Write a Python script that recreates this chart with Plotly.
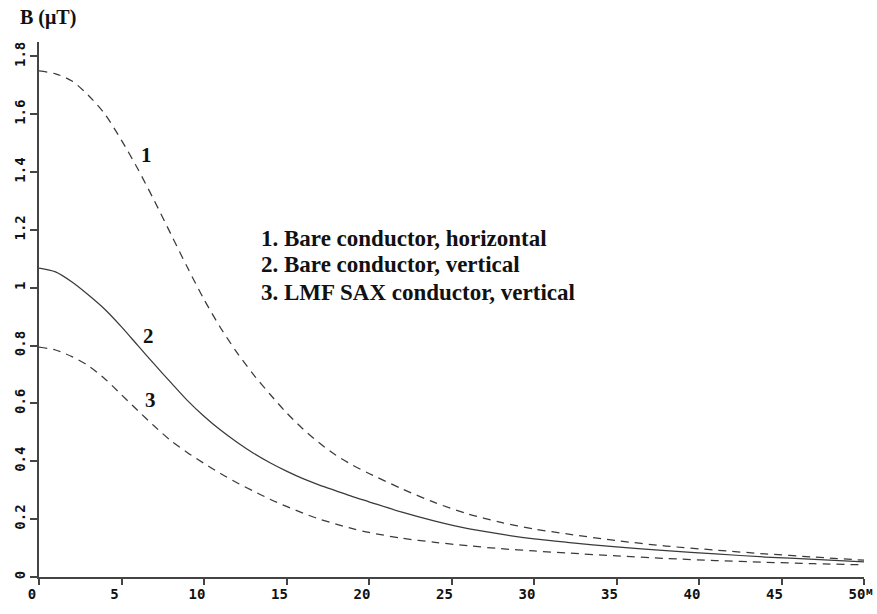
import plotly.graph_objects as go

x_m = [0, 1, 2, 3, 4, 5, 6, 7, 8, 9, 10, 11, 12, 13, 14, 15, 16, 17, 18, 19, 20,
       22, 24, 26, 28, 30, 32, 35, 38, 41, 44, 47, 50]
b_bare_horizontal = [1.75, 1.74, 1.715, 1.665, 1.60, 1.51, 1.41, 1.30, 1.185, 1.07, 0.96,
                     0.862, 0.776, 0.70, 0.632, 0.568, 0.512, 0.463, 0.421, 0.387, 0.358,
                     0.305, 0.257, 0.218, 0.189, 0.166, 0.149, 0.126, 0.107, 0.093, 0.080, 0.069, 0.058]
b_bare_vertical = [1.068, 1.055, 1.02, 0.975, 0.925, 0.865, 0.80, 0.735, 0.672, 0.61, 0.556,
                   0.508, 0.466, 0.428, 0.395, 0.366, 0.34, 0.318, 0.298, 0.278, 0.26,
                   0.224, 0.193, 0.167, 0.148, 0.132, 0.12, 0.104, 0.091, 0.080, 0.069, 0.061, 0.052]
b_lmf_sax_vertical = [0.795, 0.785, 0.762, 0.73, 0.685, 0.63, 0.575, 0.521, 0.471, 0.43, 0.393,
                      0.358, 0.326, 0.297, 0.269, 0.244, 0.221, 0.2, 0.183, 0.167, 0.154,
                      0.134, 0.12, 0.108, 0.098, 0.09, 0.083, 0.073, 0.064, 0.057, 0.051, 0.046, 0.042]

legend_lines = ["1. Bare conductor, horizontal",
                "2. Bare conductor, vertical",
                "3. LMF SAX conductor, vertical"]
curve_labels = ["1", "2", "3"]
x_ticks = [0, 5, 10, 15, 20, 25, 30, 35, 40, 45, 50]
y_ticks = [0, 0.2, 0.4, 0.6, 0.8, 1.0, 1.2, 1.4, 1.6, 1.8]
y_ticktext = ["0", "0.2", "0.4", "0.6", "0.8", "1", "1.2", "1.4", "1.6", "1.8"]

line_col = "#3a3a3a"
fig = go.Figure()
for ys, dash in [(b_bare_horizontal, "8px,6px"), (b_bare_vertical, "solid"),
                 (b_lmf_sax_vertical, "8px,6px")]:
    fig.add_trace(go.Scatter(x=x_m, y=ys, mode="lines",
                             line=dict(color=line_col, width=1.25, dash=dash, shape="spline", smoothing=0.8),
                             showlegend=False, hoverinfo="skip"))

serif = "Liberation Serif"
# curve number labels
for lab, (lx, ly) in zip(curve_labels, [(6.51, 1.459), (6.63, 0.832), (6.75, 0.613)]):
    fig.add_annotation(x=lx, y=ly, text=lab, showarrow=False, xanchor="center", yanchor="middle",
                       font=dict(family=serif, size=21, color="#111", weight="bold"))
# legend text
for t, ly in zip(legend_lines, [1.171, 1.080, 0.985]):
    fig.add_annotation(x=13.34, y=ly, text=t, showarrow=False, xanchor="left", yanchor="middle",
                       font=dict(family=serif, size=23, color="#111", weight="bold"))

fig.add_annotation(xref="paper", yref="paper", x=-0.026, y=1.046, text="B (μT)", showarrow=False,
                   xanchor="left", yanchor="middle",
                   font=dict(family=serif, size=20, color="#111", weight="bold"))
fig.add_annotation(xref="paper", yref="paper", x=1.0, y=-0.028, text="м", showarrow=False,
                   xanchor="left", yanchor="middle",
                   font=dict(family="DejaVu Sans Mono", size=11, color="#111", weight="bold"))

mono = dict(family="DejaVu Sans Mono", size=14, color="#111", weight="bold")
fig.update_xaxes(range=[0, 50], tickvals=x_ticks, showgrid=False, zeroline=False,
                 showline=True, linecolor="#444", linewidth=1.5, ticks="outside",
                 ticklen=6, tickcolor="#444", tickwidth=1.5, tickfont=mono,
                 ticklabelshift=-7, ticklabelstandoff=-3)
fig.update_yaxes(range=[0, 1.85], tickvals=y_ticks, ticktext=y_ticktext, showgrid=False,
                 zeroline=False, showline=True, linecolor="#444", linewidth=1.5,
                 ticks="outside", ticklen=7, tickcolor="#444", tickwidth=1.5,
                 tickangle=-90, tickfont=mono)

fig.update_layout(width=877, height=614, margin=dict(l=37, r=13, t=42, b=25),
                  plot_bgcolor="white", paper_bgcolor="white")
fig.write_html("out.html")
